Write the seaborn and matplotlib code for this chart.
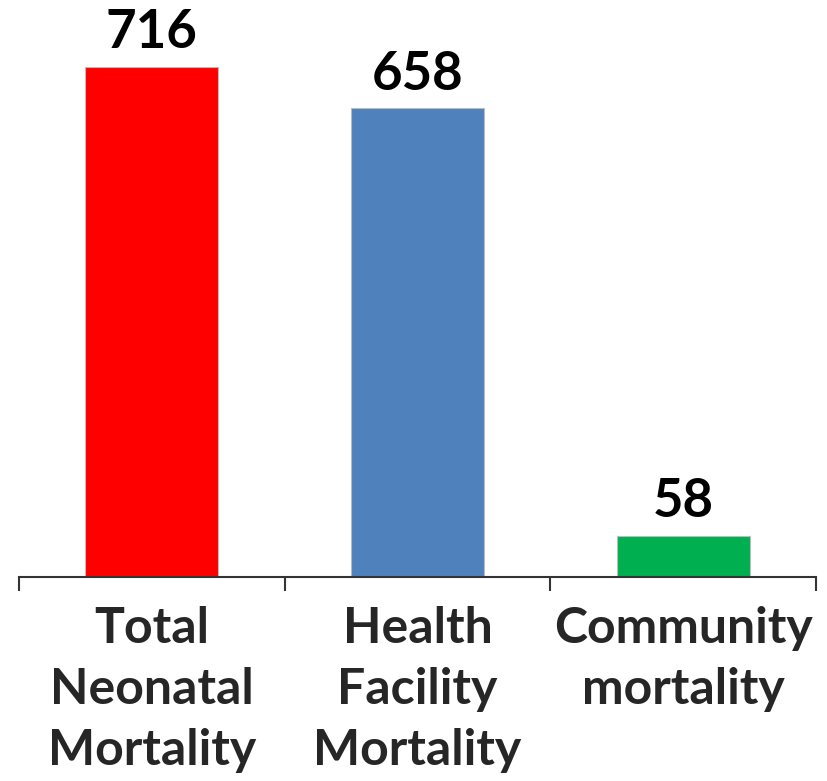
import matplotlib
matplotlib.use("Agg")
import matplotlib.pyplot as plt
import seaborn as sns
import pandas as pd

categories = ["Total\nNeonatal\nMortality", "Health\nFacility\nMortality", "Community\nmortality"]
values = [716, 658, 58]
colors = ["#FF0000", "#4F81BD", "#00B050"]

sns.set_theme(style="white")
plt.rcParams['font.family'] = ['Lato', 'DejaVu Sans']

df = pd.DataFrame({"cat": categories, "val": values})

fig = plt.figure(figsize=(8.28, 7.81), dpi=100)
ax = fig.add_axes([19/828, (781-577)/781, (816-19)/828, 577/781])
sns.barplot(data=df, x="cat", y="val", hue="cat", palette=colors, width=0.5,
            saturation=1, legend=False, ax=ax, edgecolor="#BBBBBB", linewidth=0.8)
ax.set_ylim(0, 577/510*716)
ax.set_xlim(-0.5, 2.5)
for c in ax.containers:
    ax.bar_label(c, fmt="%d", fontsize=38, fontweight="bold", padding=7, color="black")
for s in ["top", "right", "left"]:
    ax.spines[s].set_visible(False)
ax.spines["bottom"].set_color("#333333")
ax.spines["bottom"].set_linewidth(1.5)
ax.set_yticks([])
ax.set_xlabel("")
ax.set_ylabel("")
ax.set_xticks([-0.5, 0.5, 1.5, 2.5], minor=True)
ax.tick_params(axis="x", which="minor", length=10, width=1.5, color="#333333", bottom=True)
ax.tick_params(axis="x", which="major", length=0, pad=21, labelsize=36)
for t in ax.get_xticklabels():
    t.set_fontweight("bold")
    t.set_linespacing(1.43)
fig.savefig("out.png", dpi=100)
